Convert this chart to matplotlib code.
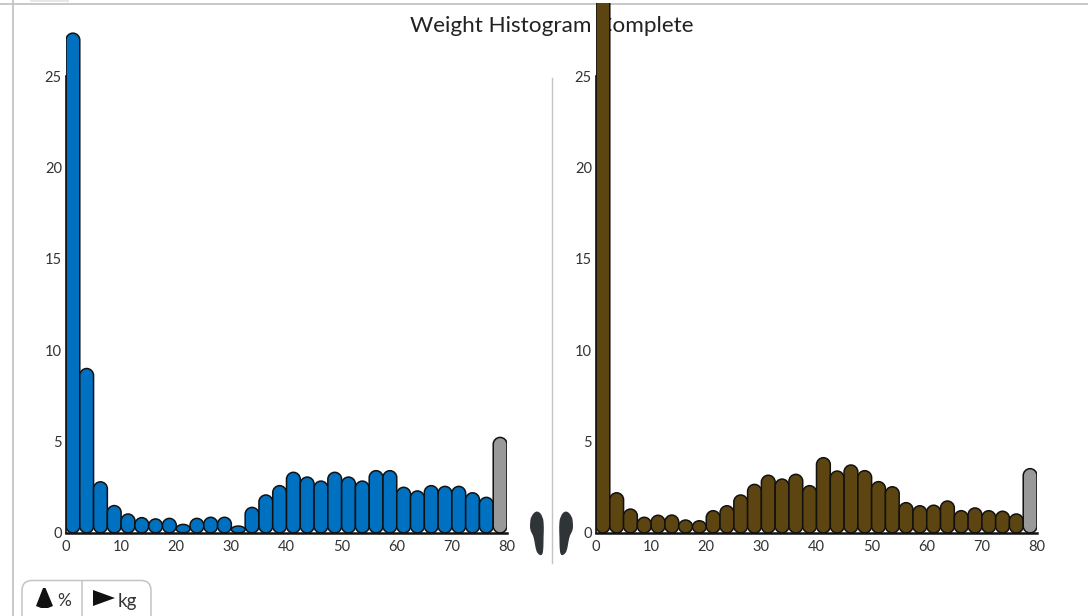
import numpy as np
import matplotlib
matplotlib.use("Agg")
from matplotlib import pyplot as plt
from matplotlib.path import Path
from matplotlib.patches import PathPatch, FancyBboxPatch, Polygon

plt.rcParams['font.family'] = ['Lato', 'DejaVu Sans']

bin_width = 2.5
left_values = [27.35, 9.0, 2.8, 1.5, 1.04, 0.84, 0.77, 0.8, 0.47, 0.8, 0.86, 0.86, 0.38, 1.4, 2.08, 2.59,
               3.32, 3.06, 2.84, 3.32, 3.06, 2.84, 3.41, 3.41, 2.5, 2.3, 2.59, 2.55, 2.55, 2.2, 1.95, 5.23]
right_values = [31.0, 2.2, 1.31, 0.86, 0.97, 0.98, 0.71, 0.67, 1.22, 1.49, 2.08, 2.66, 3.16, 2.95, 3.21, 2.59,
                4.12, 3.39, 3.72, 3.41, 2.81, 2.53, 1.66, 1.49, 1.52, 1.75, 1.22, 1.37, 1.22, 1.19, 1.04, 3.52]
x_ticks = [0, 10, 20, 30, 40, 50, 60, 70, 80]
y_ticks = [0, 5, 10, 15, 20, 25]

BLUE = "#0070c0"
BROWN = "#5c4510"
GREY = "#999999"
RULE = "#c4c4c4"
TEXT = "#333333"

W, H = 1088, 616
Y_MAX = 29.0
# aspect of one data unit on screen, so the bar caps come out round
PX_X = 441 / 80
PX_Y = 530 / Y_MAX


def round_bar(x0, width, height):
    k = 0.5523
    rx = width / 2
    ry = min(rx * PX_X / PX_Y, height / 2)
    x1 = x0 + width
    verts = [(x0, ry), (x0, height - ry),
             (x0, height - ry + k * ry), (x0 + rx - k * rx, height), (x0 + rx, height),
             (x0 + rx + k * rx, height), (x1, height - ry + k * ry), (x1, height - ry),
             (x1, ry),
             (x1, ry - k * ry), (x0 + rx + k * rx, 0), (x0 + rx, 0),
             (x0 + rx - k * rx, 0), (x0, ry - k * ry), (x0, ry),
             (x0, ry)]
    codes = [Path.MOVETO, Path.LINETO] + [Path.CURVE4] * 6 + [Path.LINETO] + [Path.CURVE4] * 6 + [Path.CLOSEPOLY]
    return Path(verts, codes)


def draw_hist(ax, values, color):
    for i, val in enumerate(values):
        # last bin is the grey overflow one
        c = GREY if i == len(values) - 1 else color
        ax.add_patch(PathPatch(round_bar(i * bin_width, bin_width, val), facecolor=c,
                               edgecolor="#111111", linewidth=1.1))
    ax.set_xlim(0, 80)
    ax.set_ylim(0, Y_MAX)
    ax.set_xticks(x_ticks)
    ax.set_yticks(y_ticks)
    ax.tick_params(length=0, labelsize=10.5, labelcolor=TEXT)
    ax.tick_params(axis="y", pad=3)
    ax.tick_params(axis="x", pad=5)
    ax.patch.set_visible(False)
    for s in ["top", "right"]:
        ax.spines[s].set_visible(False)
    ax.spines["left"].set_bounds(0, 25)
    ax.spines["left"].set_linewidth(1.2)
    ax.spines["left"].set_color("#111111")
    ax.spines["bottom"].set_linewidth(1.8)
    ax.spines["bottom"].set_color("#111111")


def foot(ui, cx, flip):
    # sole outline as quadratic control points, pixels around the middle of the foot
    sole = np.array([[0, -23], [6, -17], [7, -6], [6.5, 4], [6.5, 14], [5.5, 23], [0.5, 21],
                     [-1.5, 15], [-2.5, 8], [-4, 2], [-7, -3], [-7, -10], [-6, -17]], dtype=float)
    if flip:
        sole[:, 0] = -sole[:, 0]
    sole[:, 0] += cx
    sole[:, 1] += 533
    mids = (sole + np.roll(sole, -1, axis=0)) / 2
    verts = [mids[-1]]
    codes = [Path.MOVETO]
    for p, m in zip(sole, mids):
        verts += [p, m]
        codes += [Path.CURVE3, Path.CURVE3]
    ui.add_patch(PathPatch(Path(verts, codes), facecolor="#2f3436", edgecolor="none"))


def main():
    fig = plt.figure(figsize=(W / 100, H / 100), dpi=100)

    # page furniture sits behind the charts, the tall brown bar covers the title
    ui = fig.add_axes([0, 0, 1, 1], zorder=-1)
    ui.set_xlim(0, W)
    ui.set_ylim(H, 0)
    ui.axis("off")
    ui.plot([0, W], [3.5, 3.5], color=RULE, lw=1.3)
    ui.plot([13, 13], [0, H], color=RULE, lw=1.3)
    ui.plot([31, 68], [0.5, 0.5], color="#e4e4e4", lw=1.3)
    ui.plot([551.5, 551.5], [78, 563], color=RULE, lw=1.0)
    ui.text(551.5, 26.5, "Weight Histogram Complete", ha="center", va="center", fontsize=16.2, color="#222222")
    foot(ui, 537, False)
    foot(ui, 566, True)

    ui.add_patch(FancyBboxPatch((22, 580.5), 129, 50, boxstyle="round,pad=0,rounding_size=10",
                                facecolor="white", edgecolor=RULE, linewidth=1.1))
    ui.plot([82, 82], [581, H], color=RULE, lw=1.1)
    ui.add_patch(Polygon([[43, 588], [45.5, 588], [53, 606], [48, 608], [41, 608], [36, 606]], closed=True, facecolor="#111111", edgecolor="none"))
    ui.add_patch(Polygon([[93, 590], [115, 598], [93, 606]], closed=True, facecolor="#111111", edgecolor="none"))
    ui.text(64, 601, "%", ha="center", va="center", fontsize=12.5, color=TEXT)
    ui.text(127.5, 602, "kg", ha="center", va="center", fontsize=13.5, color=TEXT)

    bottom = (H - 533) / H
    height = 530 / H
    ax1 = fig.add_axes([66 / W, bottom, 441 / W, height])
    ax2 = fig.add_axes([596 / W, bottom, 441 / W, height])
    draw_hist(ax1, left_values, BLUE)
    draw_hist(ax2, right_values, BROWN)

    fig.savefig("out.png", dpi=100)


if __name__ == "__main__":
    main()
